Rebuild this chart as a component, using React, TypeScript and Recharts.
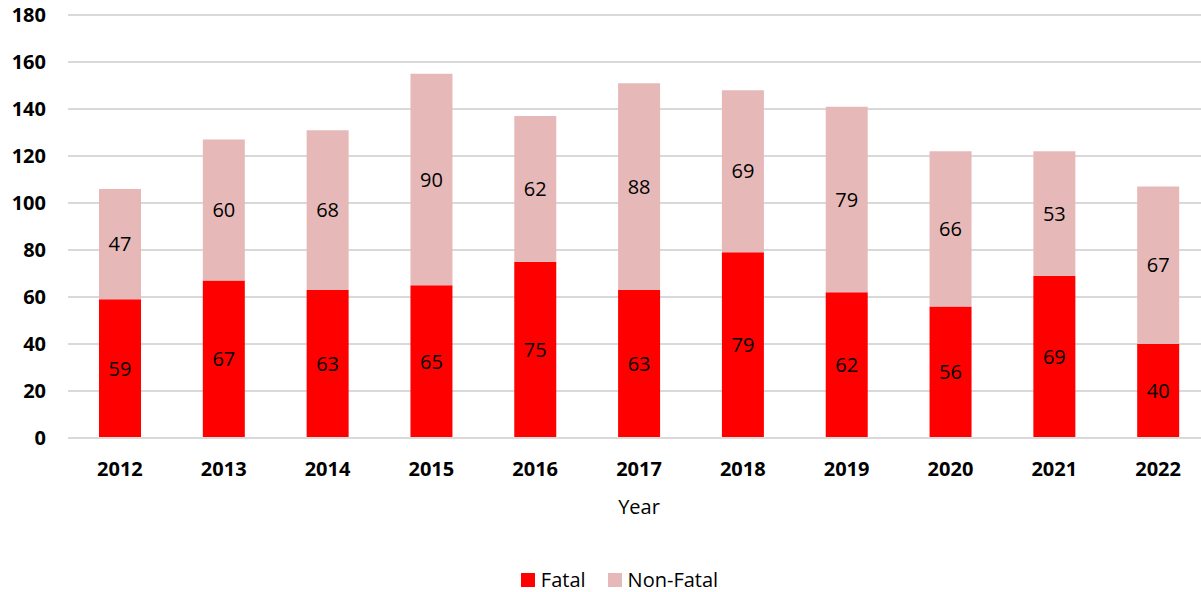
import React from 'react';
import {
  BarChart,
  Bar,
  XAxis,
  YAxis,
  CartesianGrid,
  Legend,
  LabelList,
} from 'recharts';

const years = ['2012', '2013', '2014', '2015', '2016', '2017', '2018', '2019', '2020', '2021', '2022'];
const fatal = [59, 67, 63, 65, 75, 63, 79, 62, 56, 69, 40];
const nonFatal = [47, 60, 68, 90, 62, 88, 69, 79, 66, 53, 67];
const yTicks = [0, 20, 40, 60, 80, 100, 120, 140, 160, 180];

const data = years.map((year, i) => ({ year, fatal: fatal[i], nonFatal: nonFatal[i] }));

const FONT = '"Open Sans", sans-serif';

const legendItems = [
  { label: 'Fatal', color: '#FF0000' },
  { label: 'Non-Fatal', color: '#E6B9B8' },
];

function LegendBox() {
  return (
    <div
      style={{
        display: 'flex',
        justifyContent: 'center',
        gap: 22,
        fontFamily: FONT,
        fontSize: 20,
        color: '#000',
      }}
    >
      {legendItems.map((it) => (
        <div key={it.label} style={{ display: 'flex', alignItems: 'center', gap: 6 }}>
          <span style={{ width: 14, height: 14, background: it.color, display: 'inline-block' }} />
          <span>{it.label}</span>
        </div>
      ))}
    </div>
  );
}

export default function App() {
  return (
    <div
      style={{
        position: 'absolute',
        left: 0,
        top: 0,
        width: 1201,
        height: 592,
        overflow: 'hidden',
        background: '#fff',
      }}
    >
      <BarChart
        width={1215}
        height={592}
        data={data}
        margin={{ top: 15, right: 5, left: 0, bottom: 38 }}
      >
        <CartesianGrid vertical={false} stroke="#D9D9D9" strokeWidth={2} />
        <XAxis
          dataKey="year"
          height={90}
          axisLine={{ stroke: '#D9D9D9', strokeWidth: 2 }}
          tickLine={false}
          tick={{ fontFamily: FONT, fontSize: 20, fontWeight: 700, fill: '#000', dy: 16 }}
          label={{
            value: 'Year',
            position: 'insideBottom',
            offset: 14,
            style: { fontFamily: FONT, fontSize: 20, fill: '#000' },
          }}
        />
        <YAxis
          width={68}
          domain={[0, 180]}
          ticks={yTicks}
          axisLine={false}
          tickLine={false}
          tick={{ fontFamily: FONT, fontSize: 20, fontWeight: 700, fill: '#000', dx: -14 }}
        />
        <Legend
          verticalAlign="bottom"
          content={() => <LegendBox />}
          wrapperStyle={{ left: 12, bottom: 0, width: 1215, height: 26 }}
        />
        <Bar dataKey="fatal" name="Fatal" stackId="a" fill="#FF0000" barSize={42} isAnimationActive={false}>
          <LabelList
            dataKey="fatal"
            position="center"
            style={{ fontFamily: FONT, fontSize: 20, fill: '#000' }}
          />
        </Bar>
        <Bar dataKey="nonFatal" name="Non-Fatal" stackId="a" fill="#E6B9B8" barSize={42} isAnimationActive={false}>
          <LabelList
            dataKey="nonFatal"
            position="center"
            style={{ fontFamily: FONT, fontSize: 20, fill: '#000' }}
          />
        </Bar>
      </BarChart>
    </div>
  );
}
